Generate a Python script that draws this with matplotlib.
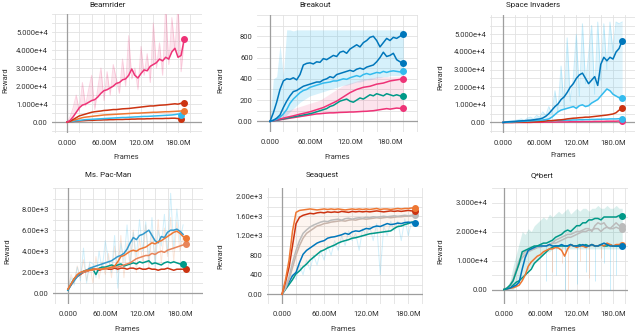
import numpy as np
import matplotlib.pyplot as plt
from matplotlib.ticker import MultipleLocator

plt.rcParams['font.family'] = ['Roboto', 'DejaVu Sans']

# tensorboard colours
BLUE = '#0077bb'
RED = '#cc3311'
CYAN = '#33bbee'
PINK = '#ee3377'
TEAL = '#009988'
ORANGE = '#ee7733'
GREY = '#bbbbbb'

frames = list(range(0, 205, 5))  # millions of frames, 5M apart

########## Beamrider (x1e4) ##########
beam_pink = [0.0, 0.1, 0.3, 0.55, 0.8, 0.95, 1.0, 1.1, 1.2, 1.25, 1.4, 1.6, 1.75, 1.8, 1.9, 2.0, 2.15, 2.2, 2.35,
             2.4, 2.6, 2.95, 2.6, 2.45, 2.7, 2.9, 2.85, 3.1, 3.2, 3.3, 3.5, 3.4, 3.6, 3.5, 3.9, 4.1, 3.6, 3.7, 4.6]
beam_pink_raw = [0.0, 0.3, 0.8, 1.5, 0.6, 2.2, 0.9, 1.8, 2.6, 0.7, 1.9, 3.0, 1.2, 2.8, 1.5, 3.2, 2.4, 1.6, 3.5,
                 2.0, 4.8, 2.4, 3.0, 1.8, 4.2, 2.6, 3.8, 2.2, 5.5, 3.0, 4.4, 2.6, 6.5, 3.2, 5.8, 4.0, 6.5, 2.8, 4.6]
beam_red = [0, 0.05, 0.15, 0.25, 0.35, 0.4, 0.45, 0.5, 0.55, 0.58, 0.6, 0.62, 0.65, 0.66, 0.68, 0.7, 0.7, 0.72, 0.74,
            0.75, 0.76, 0.78, 0.8, 0.82, 0.84, 0.86, 0.88, 0.9, 0.9, 0.92, 0.94, 0.95, 0.96, 0.98, 1.0, 1.02, 1.0, 1.05, 1.05]
beam_orange = [0, 0.04, 0.1, 0.15, 0.2, 0.25, 0.28, 0.3, 0.32, 0.34, 0.36, 0.38, 0.4, 0.41, 0.42, 0.43, 0.44, 0.45,
               0.46, 0.47, 0.48, 0.49, 0.5, 0.5, 0.51, 0.52, 0.53, 0.54, 0.55, 0.55, 0.56, 0.57, 0.58, 0.58, 0.59, 0.6,
               0.61, 0.62, 0.62]
beam_cyan = [0, 0.02, 0.05, 0.08, 0.1, 0.12, 0.14, 0.15, 0.16, 0.17, 0.18, 0.19, 0.2, 0.21, 0.22, 0.23, 0.24, 0.25,
             0.26, 0.26, 0.27, 0.28, 0.29, 0.3, 0.31, 0.32, 0.32, 0.33, 0.34, 0.35, 0.36, 0.37, 0.38, 0.39, 0.4, 0.42,
             0.45, 0.4]
beam_red2 = [0, 0.02, 0.04, 0.06, 0.07, 0.08, 0.09, 0.1, 0.1, 0.11, 0.12, 0.12, 0.13, 0.13, 0.14, 0.14, 0.15, 0.15,
             0.15, 0.16, 0.16, 0.17, 0.17, 0.18, 0.18, 0.18, 0.19, 0.19, 0.2, 0.2, 0.2, 0.2, 0.21, 0.21, 0.22, 0.22,
             0.2, 0.2]

########## Breakout ##########
brk_blue = [0, 80, 180, 300, 380, 400, 395, 410, 390, 440, 530, 545, 550, 540, 560, 555, 590, 580, 600, 620, 610,
            650, 660, 640, 680, 700, 720, 700, 740, 760, 790, 800, 760, 700, 740, 780, 760, 790, 780, 800, 825]
brk_blue2 = [0, 10, 30, 60, 130, 190, 240, 280, 290, 310, 330, 340, 350, 360, 370, 370, 390, 400, 420, 410, 440,
             450, 460, 470, 480, 470, 490, 500, 490, 510, 520, 530, 560, 600, 650, 610, 620, 640, 580, 560, 545]
brk_cyan = [0, 10, 20, 40, 70, 110, 170, 210, 240, 270, 290, 300, 320, 330, 340, 350, 360, 365, 370, 380, 380,
            390, 400, 395, 410, 420, 430, 420, 440, 450, 440, 450, 460, 455, 470, 460, 470, 475, 470, 465, 470]
brk_pink = [0, 8, 15, 22, 30, 38, 45, 52, 60, 68, 75, 82, 90, 100, 110, 120, 130, 145, 160, 175, 190,
            210, 230, 250, 270, 285, 300, 310, 320, 325, 330, 340, 350, 355, 360, 370, 380, 385, 390, 395, 400]
brk_teal = [0, 6, 12, 18, 24, 30, 36, 42, 48, 54, 60, 66, 72, 80, 90, 100, 110, 120, 140, 150, 170,
            190, 200, 210, 190, 180, 200, 220, 210, 230, 250, 240, 260, 250, 240, 260, 250, 240, 250, 240, 235]
brk_pink2 = [0, 5, 10, 15, 20, 25, 30, 35, 40, 45, 50, 55, 60, 65, 70, 72, 75, 78, 80, 80, 82,
             84, 85, 86, 88, 88, 90, 92, 94, 95, 98, 100, 105, 110, 115, 120, 115, 120, 125, 122, 125]
brk_band_hi = [0, 400, 420, 720, 430, 860, 860, 850, 860, 860, 860, 860, 860, 860, 860, 860, 860, 860, 860, 860, 860,
               860, 860, 860, 860, 860, 860, 860, 860, 860, 860, 860, 860, 860, 860, 860, 860, 860, 860, 860, 860]
brk_band_lo = [0, 0, 0, 10, 30, 60, 90, 120, 150, 180, 200, 220, 240, 250, 260, 270, 280, 290, 300, 310, 320,
               330, 340, 340, 350, 360, 370, 370, 380, 390, 390, 400, 410, 410, 420, 420, 430, 430, 430, 430, 430]
brk_pink_hi = [0, 20, 40, 60, 80, 100, 110, 120, 130, 140, 150, 160, 170, 180, 190, 200, 220, 240, 260, 280, 300,
               320, 340, 350, 360, 370, 380, 390, 400, 400, 410, 410, 420, 420, 420, 420, 420, 420, 420, 420, 420]

########## Space Invaders (x1e4) ##########
spc_blue = [0.0, 0.02, 0.04, 0.05, 0.06, 0.08, 0.09, 0.1, 0.12, 0.13, 0.15, 0.18, 0.2, 0.25, 0.35, 0.5, 0.7, 0.9,
            1.05, 1.3, 1.45, 1.7, 2.0, 2.2, 2.5, 2.7, 2.8, 2.5, 2.2, 2.4, 2.6, 2.1, 3.3, 3.7, 3.5, 3.7, 3.6, 4.0,
            4.2, 4.65]
spc_blue_raw = [0, 0.05, 0.08, 0.1, 0.12, 0.15, 0.2, 0.1, 0.25, 0.3, 0.2, 0.4, 0.3, 0.6, 0.4, 0.9, 0.5, 1.8, 0.6,
                3.2, 0.8, 4.8, 1.2, 2.5, 5.0, 1.5, 5.6, 2.2, 3.8, 5.5, 1.6, 5.7, 2.4, 5.6, 3.0, 5.7, 4.0, 5.7, 5.6, 5.7]
spc_cyan = [0, 0.01, 0.02, 0.03, 0.04, 0.05, 0.06, 0.07, 0.08, 0.09, 0.1, 0.11, 0.12, 0.14, 0.16, 0.2, 0.3, 0.45,
            0.6, 0.7, 0.75, 0.8, 0.85, 0.9, 0.8, 0.95, 1.0, 0.9, 0.95, 1.1, 1.2, 1.3, 1.5, 1.7, 1.9, 1.8, 1.6, 1.5,
            1.4, 1.4]
spc_red = [0, 0, 0, 0, 0.01, 0.01, 0.02, 0.02, 0.02, 0.03, 0.03, 0.04, 0.05, 0.06, 0.08, 0.1, 0.1, 0.12, 0.14,
           0.15, 0.17, 0.2, 0.22, 0.24, 0.25, 0.27, 0.28, 0.3, 0.3, 0.32, 0.34, 0.36, 0.38, 0.4, 0.42, 0.45, 0.48,
           0.55, 0.7, 0.8]
spc_cyan2 = [0, 0.01, 0.02, 0.03, 0.04, 0.05, 0.06, 0.06, 0.07, 0.07, 0.08, 0.08, 0.09, 0.09, 0.1, 0.1, 0.1, 0.11,
             0.11, 0.12, 0.12, 0.13, 0.13, 0.14, 0.14, 0.15, 0.15, 0.16, 0.16, 0.17, 0.17, 0.18, 0.18, 0.19, 0.19,
             0.2, 0.2, 0.2, 0.21, 0.22]
spc_pink = [0, 0, 0, 0, 0, 0, 0, 0, 0, 0, 0.01, 0.01, 0.01, 0.01, 0.02, 0.02, 0.02, 0.02, 0.03, 0.03, 0.03, 0.03,
            0.04, 0.04, 0.04, 0.04, 0.05, 0.05, 0.05, 0.05, 0.06, 0.06, 0.06, 0.06, 0.07, 0.07, 0.07, 0.07, 0.08, 0.08]

########## Ms. Pac-Man (x1e3) ##########
pac_cyan = [0.3, 0.8, 1.2, 1.6, 1.9, 2.1, 2.2, 2.4, 2.5, 2.6, 2.7, 2.8, 2.9, 3.0, 3.1, 3.3, 3.5, 3.6, 3.8, 4.2,
            4.8, 5.3, 5.1, 5.5, 5.6, 5.8, 6.0, 5.5, 5.0, 4.8, 5.4, 5.3, 5.8, 6.0, 6.0, 6.1, 5.9, 5.6]
pac_cyan_raw = [0.3, 1.5, 0.8, 2.5, 1.2, 4.3, 1.0, 3.0, 2.8, 1.5, 4.0, 2.2, 5.0, 3.2, 2.0, 5.5, 0.5, 4.8, 3.0,
                6.5, 2.5, 5.8, 3.5, 7.0, 4.0, 6.8, 3.0, 7.2, 2.5, 6.0, 4.5, 7.5, 3.8, 9.5, 4.2, 8.0, 5.0, 6.5]
pac_orange = [0.4, 0.9, 1.4, 1.8, 2.0, 2.1, 2.2, 2.2, 2.3, 2.3, 2.3, 2.3, 2.4, 2.4, 2.5, 2.6, 3.0, 3.5, 3.6, 3.8,
              4.0, 4.1, 4.0, 4.2, 4.3, 4.4, 4.6, 4.8, 4.7, 4.9, 5.0, 5.2, 5.4, 5.6, 5.8, 5.9, 5.7, 5.4, 5.3]
pac_orange2 = [0.4, 0.9, 1.3, 1.7, 1.9, 2.0, 2.1, 2.2, 2.2, 2.3, 2.3, 2.3, 2.3, 2.4, 2.4, 2.5, 2.5, 2.6, 2.7, 2.8,
               2.9, 3.1, 3.3, 3.4, 3.5, 3.6, 3.6, 3.8, 3.7, 3.9, 4.0, 3.9, 4.1, 4.2, 4.3, 4.4, 4.5, 4.6, 4.7]
pac_orange_raw = [0.4, 1.8, 1.0, 2.6, 1.5, 3.2, 1.2, 2.8, 1.0, 3.5, 1.4, 3.0, 1.8, 3.8, 1.5, 4.5, 2.0, 5.5, 1.5,
                  4.8, 2.5, 6.0, 2.0, 5.2, 3.0, 6.5, 2.5, 5.8, 3.2, 7.0, 2.8, 6.2, 3.5, 7.2, 3.0, 6.8, 4.0, 5.5, 4.5]
pac_teal = [0.3, 0.9, 1.4, 1.7, 1.9, 2.1, 2.2, 2.3, 2.3, 1.8, 2.4, 2.5, 2.5, 2.6, 2.7, 2.6, 2.7, 2.8, 2.6, 2.7,
            2.8, 2.9, 2.8, 3.0, 2.9, 3.0, 3.1, 2.8, 2.9, 2.8, 2.7, 2.9, 3.0, 2.9, 3.0, 2.9, 2.8, 2.8]
pac_red = [0.4, 0.8, 1.3, 1.6, 1.8, 2.0, 2.1, 2.2, 2.3, 2.3, 2.2, 2.3, 2.4, 2.3, 2.3, 2.4, 2.3, 2.4, 2.4, 2.3,
           2.4, 2.4, 2.3, 2.4, 2.3, 2.3, 2.4, 2.3, 2.3, 2.2, 2.3, 2.3, 2.4, 2.3, 2.2, 2.3, 2.3, 2.3, 2.3]

########## Seaquest ##########
sea_orange = [0, 300, 700, 1300, 1680, 1720, 1730, 1740, 1750, 1740, 1730, 1740, 1750, 1740, 1750, 1740, 1750,
              1740, 1730, 1740, 1750, 1740, 1750, 1740, 1750, 1740, 1750, 1760, 1740, 1750, 1750, 1740, 1750, 1760,
              1750, 1760, 1760, 1770, 1760]
sea_red = [0, 250, 550, 1000, 1450, 1580, 1620, 1640, 1660, 1650, 1670, 1680, 1670, 1690, 1680, 1690, 1680, 1700,
           1690, 1680, 1700, 1690, 1700, 1690, 1700, 1690, 1700, 1710, 1700, 1690, 1700, 1710, 1700, 1710, 1700,
           1710, 1720, 1710, 1700]
sea_grey = [0, 150, 350, 650, 900, 1100, 1250, 1320, 1380, 1420, 1450, 1480, 1500, 1490, 1520, 1530, 1540, 1520,
            1550, 1560, 1540, 1560, 1570, 1560, 1580, 1570, 1590, 1580, 1590, 1600, 1590, 1600, 1610, 1600, 1610,
            1620, 1610, 1620, 1620]
sea_grey2 = [0, 120, 300, 550, 800, 1000, 1150, 1250, 1300, 1350, 1400, 1420, 1450, 1460, 1480, 1490, 1500, 1510,
             1500, 1520, 1530, 1520, 1540, 1550, 1540, 1550, 1560, 1570, 1560, 1570, 1580, 1570, 1580, 1590, 1590,
             1600, 1600, 1610, 1600]
sea_blue = [0, 120, 250, 380, 450, 650, 820, 900, 950, 1000, 1050, 1080, 1100, 1150, 1170, 1180, 1200, 1220, 1250,
            1230, 1280, 1300, 1290, 1320, 1350, 1340, 1380, 1400, 1390, 1420, 1450, 1430, 1440, 1460, 1450, 1470,
            1480, 1470, 1460]
sea_teal = [0, 100, 200, 300, 420, 480, 560, 620, 700, 760, 820, 880, 910, 950, 980, 1010, 1050, 1080, 1100, 1120,
            1150, 1160, 1180, 1200, 1220, 1240, 1250, 1260, 1270, 1280, 1290, 1300, 1350, 1390, 1400, 1430, 1450,
            1480, 1490]
sea_teal_raw = [0, 200, 300, 400, 300, 600, 400, 700, 500, 800, 600, 900, 700, 1000, 800, 1100, 900, 1200, 1000,
                1300, 1100, 1250, 900, 1350, 1200, 1400, 1100, 1450, 400, 1400, 1200, 1500, 1300, 1500, 1100, 1550,
                1200, 1500, 1400]

########## Q*bert (x1e4) ##########
qb_teal = [0, 0.05, 0.15, 0.3, 0.6, 0.9, 1.3, 1.35, 1.4, 1.45, 1.5, 1.5, 1.55, 1.6, 1.6, 1.65, 1.7, 1.8, 1.85, 1.9,
           2.0, 2.05, 2.0, 2.1, 2.2, 2.2, 2.3, 2.3, 2.4, 2.4, 2.45, 2.45, 2.4, 2.5, 2.5, 2.5, 2.5, 2.5, 2.55, 2.55]
qb_teal2 = [0, 0.03, 0.08, 0.15, 0.25, 0.3, 0.4, 0.5, 0.6, 0.7, 0.9, 1.0, 1.1, 1.2, 1.3, 1.4, 1.45, 1.5, 1.5, 1.5,
            1.5, 1.5, 1.55, 1.5, 1.5, 1.55, 1.5, 1.55, 1.5, 1.55, 1.5, 1.5, 1.55, 1.5, 1.5, 1.55, 1.5, 1.5, 1.5, 1.5]
qb_grey = [0, 0.05, 0.15, 0.35, 0.7, 1.0, 1.2, 1.3, 1.35, 1.4, 1.4, 1.45, 1.5, 1.5, 1.5, 1.55, 1.6, 1.7, 1.75, 1.8,
           1.85, 1.9, 1.9, 1.95, 2.0, 2.0, 2.05, 2.1, 2.1, 2.0, 2.2, 2.3, 2.25, 2.3, 2.15, 2.1, 2.2, 2.3, 2.2, 2.2]
qb_grey2 = [0, 0.05, 0.1, 0.3, 0.6, 0.9, 1.1, 1.2, 1.3, 1.35, 1.4, 1.45, 1.45, 1.5, 1.5, 1.55, 1.6, 1.6, 1.65, 1.7,
            1.75, 1.8, 1.8, 1.85, 1.9, 1.95, 2.0, 2.0, 2.05, 2.05, 2.1, 2.1, 2.0, 2.1, 2.15, 2.1, 2.1, 2.15, 2.1, 2.1]
qb_blue = [0, 0.02, 0.05, 0.1, 0.15, 0.25, 0.7, 1.1, 1.35, 1.4, 1.45, 1.5, 1.5, 1.5, 1.5, 1.55, 1.5, 1.5, 1.5, 1.55,
           1.5, 1.5, 1.55, 1.5, 1.5, 1.5, 1.55, 1.5, 1.5, 1.55, 1.5, 1.5, 1.55, 1.6, 1.55, 1.5, 1.5, 1.5, 1.5, 1.5]
qb_orange = [0, 0.02, 0.04, 0.06, 0.1, 0.15, 0.3, 0.5, 0.8, 0.95, 1.05, 1.15, 1.2, 1.3, 1.35, 1.4, 1.4, 1.45, 1.43,
             1.35, 1.15, 1.4, 1.55, 1.5, 1.45, 1.5, 1.5, 1.45, 1.5, 1.55, 1.5, 1.5, 1.55, 1.5, 1.6, 1.55, 1.5, 1.55,
             1.55, 1.55]
qb_band_hi = [0, 0.1, 0.3, 0.8, 1.2, 1.6, 2.0, 1.9, 2.1, 2.0, 2.2, 2.3, 2.4, 2.5, 2.4, 2.6, 2.5, 2.6, 2.7, 2.6,
              2.7, 2.8, 2.6, 2.7, 2.8, 2.7, 2.8, 2.8, 2.7, 2.8, 2.8, 2.9, 2.8, 2.8, 2.9, 2.8, 2.8, 2.9, 2.8, 2.8]
qb_band_lo = [0, 0, 0, 0, 0.1, 0.3, 0.5, 0.6, 0.7, 0.8, 0.9, 1.0, 1.1, 1.2, 1.3, 1.3, 1.4, 1.4, 1.4, 1.4,
              1.4, 1.4, 1.4, 1.4, 1.4, 1.4, 1.4, 1.4, 1.4, 1.4, 1.4, 1.4, 1.4, 1.4, 1.4, 1.4, 1.4, 1.4, 1.4, 1.4]
qb_drop_x = [70, 85, 100, 120, 135, 150, 165, 175, 185]
qb_drop_lo = [0.3, 0.5, 0.0, 0.2, 0.6, 0.3, 0.9, 0.0, 0.5]
qb_drop2_x = [80, 95, 105, 125, 140, 160]
qb_drop2_lo = [0.6, 0.9, 0.0, 1.0, 0.4, 1.1]

W, H = 640, 332
fig = plt.figure(figsize=(6.4, 3.32), dpi=100)


def px(x, y):
    return x / W, 1 - y / H


def panel(l, r, t, b, xlim, ylim, yticks, ylabels, ystep, title, title_xy, xlab_xy, ylab_xy):
    ax = fig.add_axes([l / W, 1 - b / H, (r - l) / W, (b - t) / H])
    ax.set_xlim(xlim)
    ax.set_ylim(ylim)
    ax.set_xticks([0, 60, 120, 180])
    ax.set_xticklabels(['0.000', '60.00M', '120.0M', '180.0M'])
    ax.xaxis.set_minor_locator(MultipleLocator(20))
    ax.set_yticks(yticks)
    ax.set_yticklabels(ylabels)
    ax.yaxis.set_minor_locator(MultipleLocator(ystep))
    ax.grid(True, which='both', color='#e2e2e2', lw=0.6)
    ax.set_axisbelow(True)
    ax.tick_params(which='both', length=0, labelsize=5.5, labelcolor='#333333')
    ax.tick_params(axis='x', pad=5)
    ax.tick_params(axis='y', pad=3)
    for s in ax.spines.values():
        s.set_visible(False)
    ax.axhline(0, color='#9e9e9e', lw=0.9, zorder=1)
    ax.axvline(0, color='#9e9e9e', lw=0.9, zorder=1)
    fig.text(*px(*title_xy), title, ha='center', va='center', fontsize=5.8, color='#222222')
    fig.text(*px(*xlab_xy), 'Frames', ha='center', va='center', fontsize=5.5, color='#333333')
    fig.text(*px(*ylab_xy), 'Reward', ha='center', va='center', fontsize=5.5, color='#333333', rotation=90)
    return ax


def curve(ax, y, c, end=True):
    x = frames[:len(y)]
    ax.plot(x, y, color=c, lw=1.1, zorder=3)
    if end:
        ax.plot(x[-1], y[-1], 'o', color=c, ms=4, zorder=4)


def raw(ax, y, c, a=0.3):
    ax.plot(frames[:len(y)], y, color=c, lw=0.7, alpha=a, zorder=2)


def band(ax, lo, hi, c, a=0.2):
    n = min(len(lo), len(hi))
    ax.fill_between(frames[:n], lo[:n], hi[:n], color=c, alpha=a, lw=0, zorder=2)


e4 = ['0.00', '1.000e+4', '2.000e+4', '3.000e+4', '4.000e+4', '5.000e+4']

# Beamrider
ax = panel(52, 202, 14, 133, (-24.3, 218.9), (-0.6, 6.0), [0, 1, 2, 3, 4, 5], e4, 0.5,
           'Beamrider', (108, 5), (126, 157), (5, 80))
raw(ax, beam_pink_raw, PINK, 0.2)
band(ax, beam_pink, beam_pink_raw, PINK, 0.13)
curve(ax, beam_red2, RED)
curve(ax, beam_cyan, CYAN)
curve(ax, beam_orange, ORANGE)
curve(ax, beam_red, RED)
curve(ax, beam_pink, PINK)

# Breakout
ax = panel(257, 418, 15, 132, (-19.5, 222), (-100, 1000), [0, 200, 400, 600, 800],
           ['0.00', '200', '400', '600', '800'], 100, 'Breakout', (315, 5), (337, 157), (220, 80))
band(ax, brk_band_lo, brk_band_hi, CYAN, 0.2)
band(ax, brk_pink2, brk_pink_hi, PINK, 0.13)
curve(ax, brk_pink2, PINK)
curve(ax, brk_teal, TEAL)
curve(ax, brk_pink, PINK)
curve(ax, brk_cyan, CYAN)
curve(ax, brk_blue2, BLUE)
curve(ax, brk_blue, BLUE)

# Space Invaders
ax = panel(490, 635, 15, 133, (-21.3, 216), (-0.6, 6.1), [0, 1, 2, 3, 4, 5], e4, 0.5,
           'Space Invaders', (533, 5), (563, 155), (440, 77))
raw(ax, spc_blue_raw, CYAN, 0.25)
band(ax, spc_cyan, spc_blue_raw, CYAN, 0.15)
curve(ax, spc_pink, PINK)
curve(ax, spc_cyan2, CYAN)
curve(ax, spc_red, RED)
curve(ax, spc_cyan, CYAN)
curve(ax, spc_blue, BLUE)

# Ms. Pac-Man
ax = panel(53, 203, 188, 304, (-24, 217), (-1, 10), [0, 2, 4, 6, 8],
           ['0.00', '2.00e+3', '4.00e+3', '6.00e+3', '8.00e+3'], 1, 'Ms. Pac-Man', (108, 175), (127, 329), (7, 251))
raw(ax, pac_orange_raw, ORANGE, 0.18)
raw(ax, pac_cyan_raw, CYAN, 0.22)
curve(ax, pac_red, RED)
curve(ax, pac_teal, TEAL)
curve(ax, pac_orange2, '#e8855a')
curve(ax, pac_cyan, '#3399cc', end=False)
curve(ax, pac_orange, ORANGE)

# Seaquest
ax = panel(267, 423, 188, 304, (-21.4, 201), (-200, 2180), [0, 400, 800, 1200, 1600, 2000],
           ['0.00', '400', '800', '1.20e+3', '1.60e+3', '2.00e+3'], 200, 'Seaquest', (322, 175), (343, 329), (220, 256))
raw(ax, sea_teal_raw, CYAN, 0.22)
band(ax, sea_teal, sea_orange, ORANGE, 0.07)
curve(ax, sea_teal, TEAL, end=False)
curve(ax, sea_blue, BLUE)
curve(ax, sea_grey2, '#c8b4aa', end=False)
curve(ax, sea_grey, GREY)
curve(ax, sea_red, RED)
curve(ax, sea_orange, ORANGE)

# Q*bert
ax = panel(492, 628, 188, 304, (-19.8, 204.6), (-0.5, 3.5), [0, 1, 2, 3],
           ['0.00', '1.000e+4', '2.000e+4', '3.000e+4'], 0.5, 'Q*bert', (542, 175), (563, 329), (440, 251))
band(ax, qb_band_lo, qb_band_hi, TEAL, 0.15)
ax.vlines(qb_drop_x, qb_drop_lo, 1.5, color=CYAN, lw=0.6, alpha=0.3, zorder=2)
ax.vlines(qb_drop2_x, qb_drop2_lo, 1.5, color=ORANGE, lw=0.6, alpha=0.25, zorder=2)
curve(ax, qb_teal2, TEAL, end=False)
curve(ax, qb_grey2, GREY)
curve(ax, qb_grey, GREY)
curve(ax, qb_orange, ORANGE)
curve(ax, qb_blue, BLUE)
curve(ax, qb_teal, TEAL)

fig.savefig('out.png', dpi=100)
